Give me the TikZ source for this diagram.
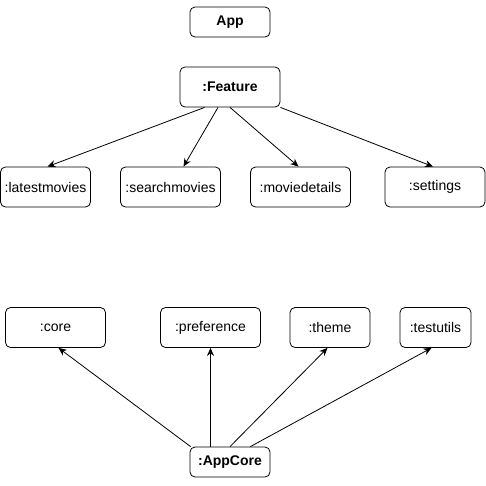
\documentclass[tikz,border=0pt]{standalone}
\usepackage{fontspec}
\setmainfont{Liberation Sans}
\usetikzlibrary{arrows.meta}
\begin{document}
\begin{tikzpicture}[x=1pt,y=-1pt,
  box/.style={draw,rounded corners=5pt,line width=0.8pt,inner sep=0pt,font=\fontsize{14}{16}\selectfont},
  boldbox/.style={box,font=\fontsize{14}{16}\selectfont\bfseries},
  arr/.style={line width=0.8pt,-{Stealth[length=8pt,width=7pt,inset=2.5pt]}}]
\useasboundingbox (0,0) rectangle (486,485);
\node[boldbox,minimum width=80pt,minimum height=30pt] (app) at (230,22) {App};
\node[boldbox,minimum width=100pt,minimum height=40pt] (feat) at (230,87) {:Feature};
\node[box,minimum width=90pt,minimum height=40pt] (lm) at (45.5,187) {:latestmovies};
\node[box,minimum width=100pt,minimum height=40pt] (sm) at (170.5,187) {:searchmovies};
\node[box,minimum width=100pt,minimum height=40pt] (md) at (300.5,187) {:moviedetails};
\node[box,minimum width=100pt,minimum height=40pt] (st) at (435,187) {:settings};
\node[box,minimum width=100pt,minimum height=40pt] (core) at (55.5,327.5) {:core};
\node[box,minimum width=100pt,minimum height=40pt] (pref) at (210.5,327.5) {:preference};
\node[box,minimum width=80pt,minimum height=40pt] (theme) at (330,327.5) {:theme};
\node[box,minimum width=71pt,minimum height=40pt] (tu) at (435.5,327.5) {:testutils};
\node[boldbox,minimum width=80pt,minimum height=30pt] (ac) at (230,462) {:AppCore};
\draw[arr] ([xshift=25pt]feat.south west) -- ([xshift=2pt]lm.north);
\draw[arr] ([xshift=-12pt]feat.south) -- ([xshift=13pt]sm.north);
\draw[arr] (feat.south) -- ([xshift=-2pt]md.north);
\draw[arr] (feat.south east) -- ([xshift=-2pt]st.north);
\draw[arr] ([xshift=1pt]ac.north west) -- ([xshift=3pt]core.south);
\draw[arr] ([xshift=-19.5pt]ac.north) -- ([xshift=-19.5pt]ac.north |- pref.south);
\draw[arr] (ac.north) -- ([xshift=-2.5pt]theme.south);
\draw[arr] ([xshift=-20pt]ac.north east) -- ([xshift=-4pt]tu.south);
\end{tikzpicture}
\end{document}
